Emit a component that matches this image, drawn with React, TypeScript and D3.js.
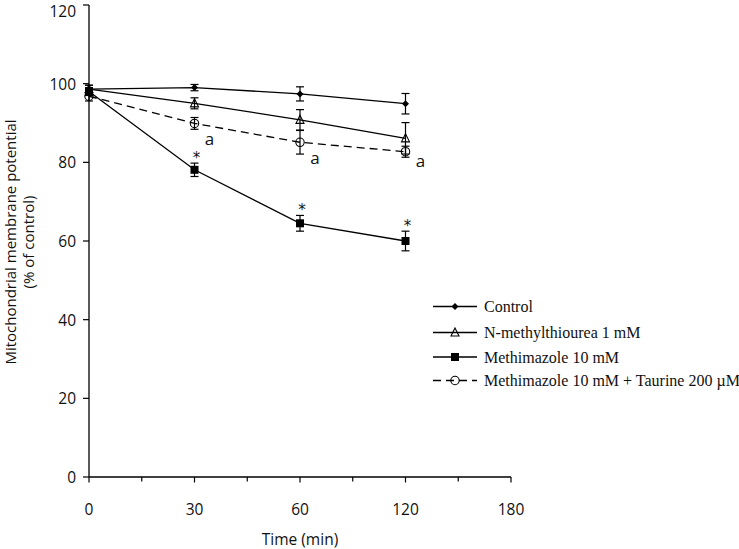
import React from "react";
import * as d3 from "d3";

const timeLabels = ["0", "30", "60", "120", "180"];
const times = ["0", "30", "60", "120"];
const yTicks = [0, 20, 40, 60, 80, 100, 120];

const controlMean = [98.6, 99.0, 97.4, 94.9];
const controlErr = [1.0, 0.8, 1.8, 2.6];
const nmtMean = [98.6, 95.0, 90.8, 86.1];
const nmtErr = [1.0, 1.4, 2.6, 4.0];
const mmiMean = [98.0, 78.1, 64.5, 60.0];
const mmiErr = [1.0, 1.7, 2.0, 2.5];
const tauMean = [96.8, 89.9, 85.1, 82.7];
const tauErr = [1.2, 1.5, 3.0, 1.4];

const seriesNames = [
  "Control",
  "N-methylthiourea 1 mM",
  "Methimazole 10 mM",
  "Methimazole 10 mM + Taurine 200 µM",
];
const starTimes = ["30", "60", "120"];
const aTimes = ["30", "60", "120"];
const aDy = [15, 15, 9];

type Marker = "diamond" | "triangle" | "square" | "circle";

const series: { name: string; mean: number[]; err: number[]; marker: Marker; dashed: boolean }[] = [
  { name: seriesNames[0], mean: controlMean, err: controlErr, marker: "diamond", dashed: false },
  { name: seriesNames[1], mean: nmtMean, err: nmtErr, marker: "triangle", dashed: false },
  { name: seriesNames[2], mean: mmiMean, err: mmiErr, marker: "square", dashed: false },
  { name: seriesNames[3], mean: tauMean, err: tauErr, marker: "circle", dashed: true },
];

const W = 739;
const H = 549;
const x = d3.scalePoint<string>().domain(timeLabels).range([89, 511]);
const y = d3.scaleLinear().domain([0, 120]).range([477, 5]);

function MarkerShape({ type, cx, cy }: { type: Marker; cx: number; cy: number }) {
  if (type === "diamond")
    return (
      <path
        d={`M${cx},${cy - 3.5}L${cx + 3.5},${cy}L${cx},${cy + 3.5}L${cx - 3.5},${cy}Z`}
        fill="#000"
      />
    );
  if (type === "square")
    return <rect x={cx - 4} y={cy - 4} width={8} height={8} fill="#000" />;
  if (type === "circle")
    return <circle cx={cx} cy={cy} r={4.2} fill="none" stroke="#000" strokeWidth={1.1} />;
  return (
    <path
      d={`M${cx},${cy - 4.5}L${cx + 4},${cy + 3.5}L${cx - 4},${cy + 3.5}Z`}
      fill="none"
      stroke="#000"
      strokeWidth={1.1}
    />
  );
}

export default function App() {
  const line = d3
    .line<number>()
    .x((_, i) => x(times[i]) as number)
    .y((d) => y(d));
  const stepX = (x("30") as number) - (x("0") as number);
  const minorX = timeLabels.slice(0, -1).map((t) => (x(t) as number) + stepX / 2);
  const font = "'Open Sans', 'DejaVu Sans', sans-serif";
  const legendRows = [306.5, 332.5, 357, 380.5];
  const txt = "#111";

  return (
    <svg
      width={W}
      height={H}
      style={{ position: "absolute", left: 0, top: 0, background: "#fff" }}
    >
      <rect width={W} height={H} fill="#fff" />
      {/* axes */}
      <line x1={89} x2={89} y1={y(120)} y2={y(0)} stroke="#000" strokeWidth={1.3} />
      <line x1={89} x2={511} y1={y(0)} y2={y(0)} stroke="#000" strokeWidth={1.3} />
      {yTicks.map((t) => (
        <g key={t}>
          <line x1={83} x2={89} y1={y(t)} y2={y(t)} stroke="#000" strokeWidth={1.2} />
          <text
            x={76}
            y={Math.max(y(t), 11)}
            textAnchor="end"
            dominantBaseline="central"
            fontFamily={font}
            fontSize={15.5}
            fill={txt}
          >
            {t}
          </text>
        </g>
      ))}
      {timeLabels.map((t) => (
        <g key={t}>
          <line x1={x(t)} x2={x(t)} y1={y(0)} y2={y(0) + 5.5} stroke="#000" strokeWidth={1.2} />
          <text
            x={x(t)}
            y={509}
            textAnchor="middle"
            dominantBaseline="central"
            fontFamily={font}
            fontSize={15.5}
            fill={txt}
          >
            {t}
          </text>
        </g>
      ))}
      {minorX.map((mx, i) => (
        <line key={i} x1={mx} x2={mx} y1={y(0)} y2={y(0) + 4.5} stroke="#000" strokeWidth={1.2} />
      ))}
      <text
        x={300}
        y={539}
        textAnchor="middle"
        dominantBaseline="central"
        fontFamily={font}
        fontSize={15.5}
        fill={txt}
      >
        Time (min)
      </text>
      <g transform="translate(10,242) rotate(-90)">
        <text textAnchor="middle" dominantBaseline="central" fontFamily={font} fontSize={15} fill={txt}>
          Mitochondrial membrane potential
        </text>
      </g>
      <g transform="translate(28,242) rotate(-90)">
        <text textAnchor="middle" dominantBaseline="central" fontFamily={font} fontSize={15} fill={txt}>
          (% of control)
        </text>
      </g>

      {/* series */}
      {series.map((s) => (
        <g key={s.name}>
          <path
            d={line(s.mean) || ""}
            fill="none"
            stroke="#000"
            strokeWidth={1.3}
            strokeDasharray={s.dashed ? "8,5" : undefined}
          />
          {s.mean.map((m, i) => {
            const cx = x(times[i]) as number;
            const top = y(m + s.err[i]);
            const bot = y(m - s.err[i]);
            return (
              <g key={i}>
                <line x1={cx} x2={cx} y1={top} y2={bot} stroke="#000" strokeWidth={1.2} />
                <line x1={cx - 4} x2={cx + 4} y1={top} y2={top} stroke="#000" strokeWidth={1.2} />
                <line x1={cx - 4} x2={cx + 4} y1={bot} y2={bot} stroke="#000" strokeWidth={1.2} />
                <MarkerShape type={s.marker} cx={cx} cy={y(m)} />
              </g>
            );
          })}
        </g>
      ))}

      {/* significance marks */}
      {starTimes.map((t) => {
        const i = times.indexOf(t);
        return (
          <text
            key={"s" + t}
            x={(x(t) as number) + 2}
            y={y(mmiMean[i] + mmiErr[i])}
            textAnchor="middle"
            fontFamily="'DejaVu Sans', sans-serif"
            fontSize={15}
            fill={txt}
          >
            *
          </text>
        );
      })}
      {aTimes.map((t, k) => {
        const i = times.indexOf(t);
        return (
          <text
            key={"a" + t}
            x={(x(t) as number) + 15}
            y={y(tauMean[i]) + aDy[k]}
            textAnchor="middle"
            dominantBaseline="central"
            fontFamily={font}
            fontSize={17}
            fill={txt}
          >
            a
          </text>
        );
      })}

      {/* legend */}
      {series.map((s, i) => (
        <g key={"lg" + i}>
          <line
            x1={433}
            x2={477}
            y1={legendRows[i]}
            y2={legendRows[i]}
            stroke="#000"
            strokeWidth={1.3}
            strokeDasharray={s.dashed ? "8,5" : undefined}
          />
          <MarkerShape type={s.marker} cx={455} cy={legendRows[i]} />
          <text
            x={484}
            y={legendRows[i]}
            dominantBaseline="central"
            fontFamily="'Liberation Serif', 'DejaVu Serif', serif"
            fontSize={16}
            fill={txt}
          >
            {s.name}
          </text>
        </g>
      ))}
    </svg>
  );
}
